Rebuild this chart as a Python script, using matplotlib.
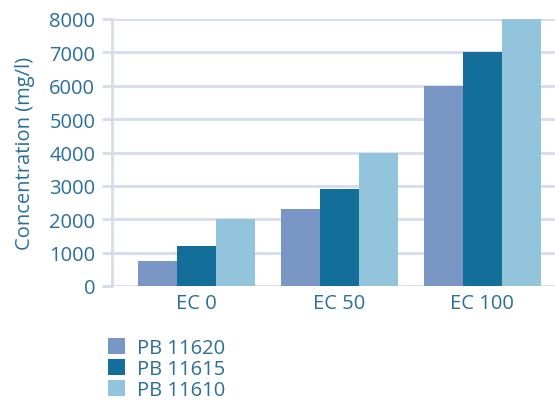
import numpy as np
import matplotlib.pyplot as plt

categories = ["EC 0", "EC 50", "EC 100"]
series_names = ["PB 11620", "PB 11615", "PB 11610"]
pb_11620 = [750, 2300, 6000]
pb_11615 = [1200, 2900, 7000]
pb_11610 = [2000, 4000, 8000]

colors = ["#7a96c4", "#146e9a", "#92c4dc"]
text_color = "#2b6f98"
grid_color = "#d5dceb"

plt.rcParams["font.family"] = ["Open Sans", "DejaVu Sans"]

fig = plt.figure(figsize=(5.55, 4.02), dpi=100)
ax = fig.add_axes([112 / 555, 115 / 402, 1 - 112 / 555, 267 / 402])

x = np.arange(len(categories))
width = 0.273
for i, (vals, name) in enumerate(zip([pb_11620, pb_11615, pb_11610], series_names)):
    ax.bar(x + (i - 1) * width, vals, width, color=colors[i], label=name, zorder=3)

ax.set_xlim(-0.59, 2.51)
ax.set_ylim(0, 8000)
ax.set_yticks(range(0, 8001, 1000))
ax.set_xticks(x)
ax.set_xticklabels(categories)

ax.grid(axis="y", color=grid_color, linewidth=2, zorder=0)
for side in ["top", "right", "bottom"]:
    ax.spines[side].set_visible(False)
ax.spines["left"].set_color(grid_color)
ax.spines["left"].set_linewidth(2)

ax.tick_params(axis="y", colors=grid_color, length=7, width=2, labelcolor=text_color,
               labelsize=14.5, pad=5)
ax.tick_params(axis="x", length=0, labelcolor=text_color, labelsize=14.5, pad=5)
for lbl in ax.get_xticklabels() + ax.get_yticklabels():
    lbl.set_fontweight("medium")
ax.set_ylabel("Concentration (mg/l)", color=text_color, fontsize=14.5,
              fontweight="medium", labelpad=10)

fig.legend(loc="upper left", bbox_to_anchor=(100 / 555, 1 - 331 / 402), frameon=False,
           handlelength=0.85, handleheight=0.85, labelspacing=0.05, handletextpad=0.6,
           borderaxespad=0, prop={"size": 14.5, "weight": "medium"}, labelcolor=text_color)

fig.savefig("out.png", dpi=100)
